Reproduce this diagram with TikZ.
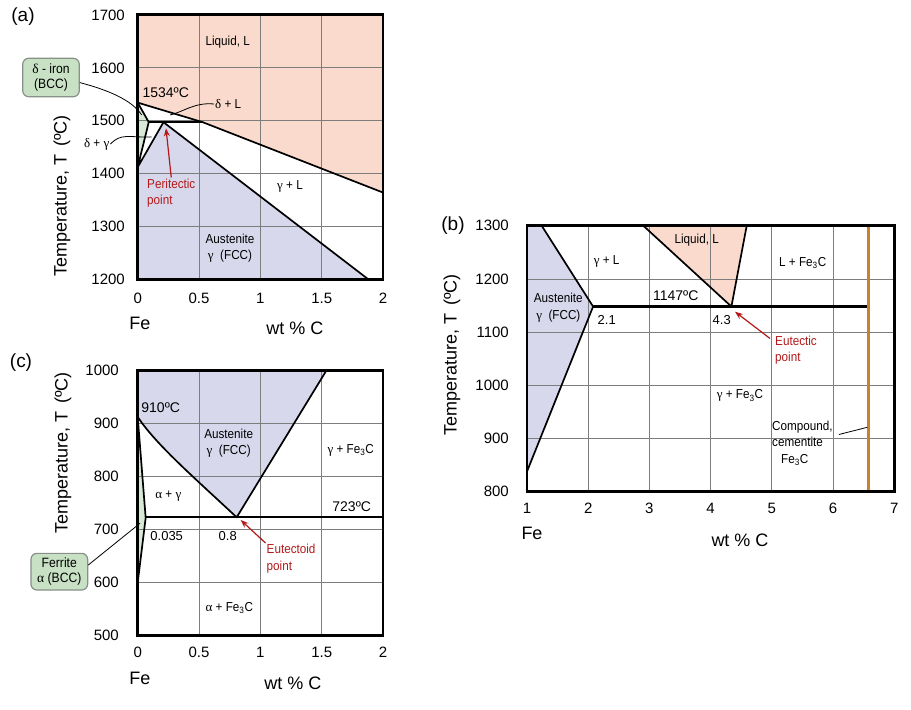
\documentclass[tikz,border=0pt]{standalone}
\usepackage{fontspec}
\setmainfont{Liberation Sans}
\newfontfamily\grk{Liberation Serif}
\newfontfamily\nar[FakeStretch=0.9]{Liberation Sans}
\usetikzlibrary{arrows.meta}
\definecolor{liqc}{RGB}{249,218,204}
\definecolor{ausc}{RGB}{216,216,236}
\definecolor{ferc}{RGB}{214,234,214}
\definecolor{boxc}{RGB}{200,224,196}
\definecolor{boxd}{RGB}{135,145,135}
\definecolor{darkred}{RGB}{180,25,25}
\definecolor{cemc}{RGB}{200,130,40}
\definecolor{gridc}{RGB}{125,125,125}
\tikzset{
  gridl/.style={draw=gridc,line width=0.7pt},
  phase/.style={draw=black,line width=1.7pt,line join=round},
  thickl/.style={draw=black,line width=2.4pt},
  frameb/.style={draw=black,line width=2.6pt},
  leader/.style={draw=black,line width=0.8pt},
  redarr/.style={draw=darkred,line width=1.2pt,-{Stealth[length=8pt,width=6pt]}},
  txt/.style={inner sep=1pt},
  tick/.style={txt,font=\fontsize{15}{18}\selectfont},
  axlab/.style={txt,font=\fontsize{18}{21}\selectfont},
  plab/.style={txt,font=\fontsize{19}{22}\selectfont},
  tlab/.style={txt,font=\fontsize{14}{16}\selectfont},
  nlab/.style={txt,font=\fontsize{13}{16}\selectfont},
  inlab/.style={txt,font=\nar\fontsize{13}{16.5}\selectfont,align=center},
  redlab/.style={txt,font=\nar\fontsize{13}{16.5}\selectfont,text=darkred,align=left,anchor=west},
  phbox/.style={draw=boxd,fill=boxc,line width=1.2pt,rounded corners=6pt,align=center,
    font=\nar\fontsize{13.5}{15.5}\selectfont,inner sep=1pt}
}
\begin{document}
\begin{tikzpicture}[x=1pt,y=-1pt]
\useasboundingbox (0,0) rectangle (911,710);

%%%%%%%%%%%%%%%%%%%% Panel (a)
\begin{scope}[shift={(137.7pt,-279.3pt)},x=122.65pt,y=0.529pt]
  \fill[liqc] (0,500) -- (2,500) -- (2,164) -- (0.53,297) -- (0,334) -- cycle;
  \fill[ferc] (0,334) -- (0.09,297) -- (0,212) -- cycle;
  \fill[ausc] (0,212) -- (0.21,297) -- (1.88,0) -- (0,0) -- cycle;
  \foreach \x in {0.5,1,1.5} \draw[gridl] (\x,0) -- (\x,500);
  \foreach \y in {100,200,300,400} \draw[gridl] (0,\y) -- (2,\y);
  \draw[phase] (0,334) -- (0.53,297) -- (2,164);
  \draw[phase] (0,334) -- (0.09,297) -- (0,212) -- (0.21,297) -- (1.88,0);
  \draw[thickl] (0.09,297) -- (0.53,297);
  \draw[frameb] (0,0) rectangle (2,500);
\end{scope}
\foreach \t in {1200,1300,...,1700}
  \node[tick,anchor=east] (ya\t) at (126,{15+(1700-\t)*0.529}) {\t};
\foreach \w [count=\i] in {0,0.5,1,1.5,2}
  \node[tick] (xa\i) at ({137.7+\w*122.65},298) {\w};
\node[plab] (pa) at (23,17) {(a)};
\node[axlab] (fea) at (140,323) {Fe};
\node[axlab] (wta) at (295,328) {wt \% C};
\node[axlab,rotate=90] (ta) at (62,196) {Temperature, T\, (ºC)};
\node[inlab] (liqa) at (227.7,42.3) {Liquid, L};
\node[tlab] (t1534) at (165.7,93) {1534ºC};
\node[inlab,anchor=west] (dl) at (214,104) {{\grk δ} + L};
\node[inlab] (dg) at (96.7,144) {{\grk δ} + {\grk γ}};
\node[inlab] (gla) at (290,186.7) {{\grk γ} + L};
\node[inlab] (ausa) at (230,248) {Austenite\\{\grk γ}\ \ (FCC)};
\node[redlab] (pp) at (146,193) {Peritectic\\point};
\node[phbox,minimum width=56.6pt,minimum height=38.4pt] (dbox) at (51,77.5) {{\grk δ} - iron\\(BCC)};
\coordinate (dboxp) at (141.7,115);
\coordinate (dlp) at (170,115);
\coordinate (dgp) at (151.7,137);
\coordinate (ppp) at (166,128.3);
\draw[leader] (dbox.-10) .. controls (108,90) and (132,100) .. (dboxp);
\draw[leader] (dl.west) .. controls (195,102) and (183,112) .. (dlp);
\draw[leader] (dg.east) .. controls (121,133) and (128,137.5) .. (dgp);
\draw[redarr] (pp.north) -- (ppp);

%%%%%%%%%%%%%%%%%%%% Panel (b)
\begin{scope}[shift={(527pt,-491.7pt)},x=61.2pt,y=0.532pt]
  \fill[ausc] (0,500) -- (0.24,500) -- (1.08,348) -- (0,38) -- cycle;
  \fill[liqc] (1.9,500) -- (3.34,348) -- (3.59,500) -- cycle;
  \foreach \x in {1,2,3,4,5} \draw[gridl] (\x,0) -- (\x,500);
  \foreach \y in {100,200,300,400} \draw[gridl] (0,\y) -- (6,\y);
  \draw[phase] (0.24,500) -- (1.08,348) -- (0,38);
  \draw[phase] (1.9,500) -- (3.34,348) -- (3.59,500);
  \draw[thickl] (1.08,348) -- (5.58,348);
  \draw[draw=cemc,line width=2.6pt] (5.58,0) -- (5.58,500);
  \draw[frameb] (0,0) rectangle (6,500);
\end{scope}
\foreach \t in {800,900,...,1300}
  \node[tick,anchor=east] (yb\t) at (510,{225.7+(1300-\t)*0.532}) {\t};
\foreach \w in {1,...,7}
  \node[tick] (xb\w) at ({527+(\w-1)*61.2},508) {\w};
\node[plab] (pb) at (453,226) {(b)};
\node[axlab] (feb) at (532,533) {Fe};
\node[axlab] (wtb) at (740,540) {wt \% C};
\node[axlab,rotate=90] (tb) at (452,355) {Temperature, T\, (ºC)};
\node[inlab] (glb) at (606.7,261.7) {{\grk γ} + L};
\node[inlab] (liqb) at (696.7,240) {Liquid, L};
\node[inlab] (lfe) at (802.7,263.3) {L + Fe\textsubscript{3}C};
\node[tlab] (t1147) at (675.7,296) {1147ºC};
\node[inlab] (ausb) at (558.3,307.5) {Austenite\\{\grk γ}\ \ (FCC)};
\node[nlab] (n21) at (606.7,320) {2.1};
\node[nlab] (n43) at (721.7,320) {4.3};
\node[redlab] (eu) at (774,350) {Eutectic\\point};
\node[inlab] (gfeb) at (740,395.7) {{\grk γ} + Fe\textsubscript{3}C};
\node[inlab,align=left,anchor=north west] (cmp) at (771,419.5) {Compound,\\cementite\\\hspace*{9pt}Fe\textsubscript{3}C};
\coordinate (eup) at (735,311.7);
\coordinate (cmpp) at (867.3,427.3);
\draw[redarr] ([xshift=-4pt,yshift=-4pt]eu.north west) -- (eup);
\draw[leader] ([xshift=5pt,yshift=-15pt]cmp.north east) -- (cmpp);

%%%%%%%%%%%%%%%%%%%% Panel (c)
\begin{scope}[shift={(137.7pt,-635.7pt)},x=122.65pt,y=0.531pt]
  \fill[ausc] (0,500) -- (1.54,500) -- (0.807,223) .. controls (0.45,300) and (0.15,360) .. (0,412) -- cycle;
  \fill[ferc] (0,412) -- (0.065,222) -- (0,100) -- cycle;
  \foreach \x in {0.5,1,1.5} \draw[gridl] (\x,0) -- (\x,500);
  \foreach \y in {100,200,300,400} \draw[gridl] (0,\y) -- (2,\y);
  \draw[phase] (0,412) .. controls (0.15,360) and (0.45,300) .. (0.807,223) -- (1.54,500);
  \draw[phase] (0,412) -- (0.065,222) -- (0,100);
  \draw[thickl] (0.065,223) -- (2,223);
  \draw[frameb] (0,0) rectangle (2,500);
\end{scope}
\foreach \t in {500,600,...,1000}
  \node[tick,anchor=east] (yc\t) at (120,{370+(1000-\t)*0.531}) {\t};
\foreach \w [count=\i] in {0,0.5,1,1.5,2}
  \node[tick] (xc\i) at ({137.7+\w*122.65},652.7) {\w};
\node[plab] (pc) at (21,363) {(c)};
\node[axlab] (fec) at (140,678) {Fe};
\node[axlab] (wtc) at (293,683) {wt \% C};
\node[axlab,rotate=90] (tc) at (63,453) {Temperature, T\, (ºC)};
\node[tlab] (t910) at (160.7,407.3) {910ºC};
\node[inlab] (ausc) at (228.7,443.3) {Austenite\\{\grk γ}\ \ (FCC)};
\node[inlab] (gfec) at (350.7,450) {{\grk γ} + Fe\textsubscript{3}C};
\node[inlab] (ag) at (168.3,496) {{\grk α} + {\grk γ}};
\node[tlab] (t723) at (351.7,506.7) {723ºC};
\node[nlab] (n035) at (166.7,536) {0.035};
\node[nlab] (n08) at (227.7,536) {0.8};
\node[redlab] (ed) at (265.5,558.5) {Eutectoid\\point};
\node[inlab] (afe) at (229.3,607.7) {{\grk α} + Fe\textsubscript{3}C};
\node[phbox,minimum width=56.7pt,minimum height=36.7pt] (fbox) at (59.3,571.7) {Ferrite\\{\grk α} (BCC)};
\coordinate (edp) at (240.7,520);
\coordinate (fboxp) at (140,523.3);
\draw[redarr] (ed.north west) -- (edp);
\draw[leader] (fbox.13) -- (fboxp);
\end{tikzpicture}
\end{document}
